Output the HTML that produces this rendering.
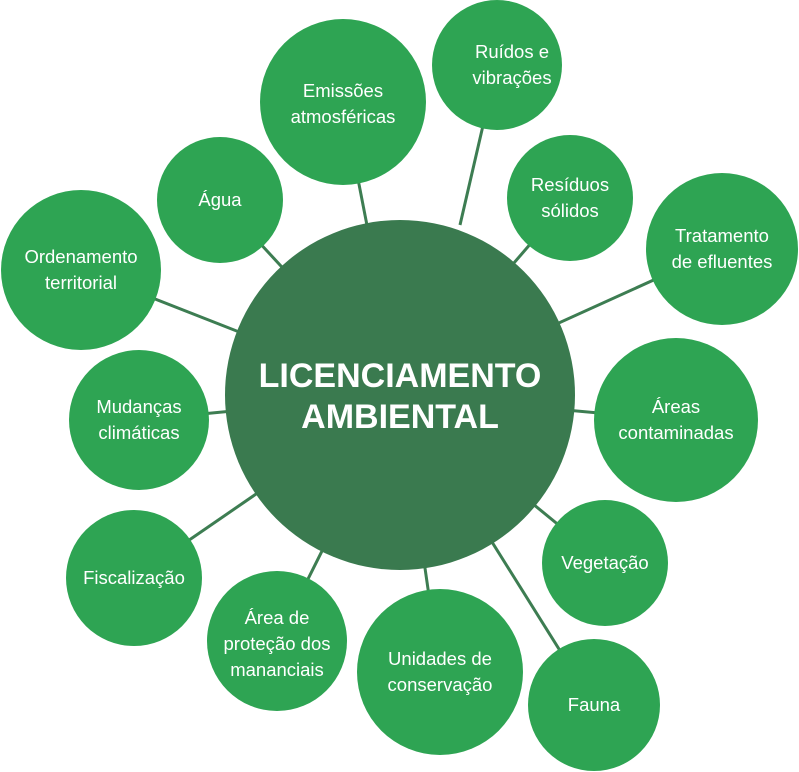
<!DOCTYPE html>
<html><head><meta charset="utf-8"><style>
html,body{margin:0;padding:0;background:#fff;}
svg{display:block}
text{font-family:"Liberation Sans",sans-serif;fill:#fff;text-anchor:middle;}
.o{font-size:18.5px;}
.c{font-size:34px;font-weight:bold;}
</style></head><body>
<svg width="799" height="772" viewBox="0 0 799 772">
<g stroke="#3d7d52" stroke-width="3">
<line x1="400" y1="395" x2="343" y2="102"/>
<line x1="460" y1="225" x2="497" y2="65"/>
<line x1="400" y1="395" x2="570" y2="198"/>
<line x1="400" y1="395" x2="722" y2="249"/>
<line x1="400" y1="395" x2="676" y2="420"/>
<line x1="400" y1="395" x2="605" y2="563"/>
<line x1="400" y1="395" x2="594" y2="705"/>
<line x1="400" y1="395" x2="440" y2="672"/>
<line x1="400" y1="395" x2="277" y2="641"/>
<line x1="400" y1="395" x2="134" y2="578"/>
<line x1="400" y1="395" x2="139" y2="420"/>
<line x1="400" y1="395" x2="81" y2="270"/>
<line x1="400" y1="395" x2="220" y2="200"/>
</g>
<g fill="#2ea453">
<circle cx="343" cy="102" r="83"/>
<circle cx="497" cy="65" r="65"/>
<circle cx="570" cy="198" r="63"/>
<circle cx="722" cy="249" r="76"/>
<circle cx="676" cy="420" r="82"/>
<circle cx="605" cy="563" r="63"/>
<circle cx="594" cy="705" r="66"/>
<circle cx="440" cy="672" r="83"/>
<circle cx="277" cy="641" r="70"/>
<circle cx="134" cy="578" r="68"/>
<circle cx="139" cy="420" r="70"/>
<circle cx="81" cy="270" r="80"/>
<circle cx="220" cy="200" r="63"/>
</g>
<circle cx="400" cy="395" r="175" fill="#3a7a4f"/>
<text class="c" x="400" y="387">LICENCIAMENTO</text>
<text class="c" x="400" y="428">AMBIENTAL</text>
<text class="o" x="343" y="97">Emissões</text><text class="o" x="343" y="123">atmosféricas</text>
<text class="o" x="512" y="58">Ruídos e</text><text class="o" x="512" y="84">vibrações</text>
<text class="o" x="570" y="191">Resíduos</text><text class="o" x="570" y="217">sólidos</text>
<text class="o" x="722" y="242">Tratamento</text><text class="o" x="722" y="268">de efluentes</text>
<text class="o" x="676" y="413">Áreas</text><text class="o" x="676" y="439">contaminadas</text>
<text class="o" x="605" y="569">Vegetação</text>
<text class="o" x="594" y="711">Fauna</text>
<text class="o" x="440" y="665">Unidades de</text><text class="o" x="440" y="691">conservação</text>
<text class="o" x="277" y="624">Área de</text><text class="o" x="277" y="650">proteção dos</text><text class="o" x="277" y="676">mananciais</text>
<text class="o" x="134" y="584">Fiscalização</text>
<text class="o" x="139" y="413">Mudanças</text><text class="o" x="139" y="439">climáticas</text>
<text class="o" x="81" y="263">Ordenamento</text><text class="o" x="81" y="289">territorial</text>
<text class="o" x="220" y="206">Água</text>
</svg>
</body></html>
